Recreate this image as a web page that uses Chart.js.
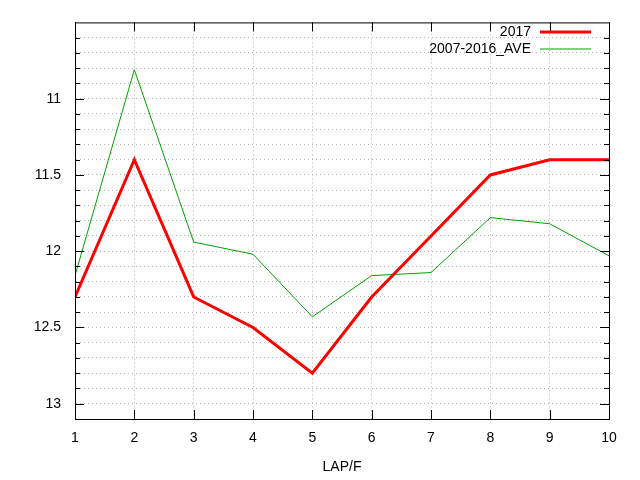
<!DOCTYPE html>
<html><head><script src="https://cdn.jsdelivr.net/npm/chart.js@4"></script>
<style>body{margin:0;background:#fff}#w{width:640px;height:480px}</style></head>
<body><div id="w"><canvas id="c" width="640" height="480"></canvas></div>
<script>
const laps=[1,2,3,4,5,6,7,8,9,10];
const s2017=[12.3,11.4,12.3,12.5,12.8,12.3,11.9,11.5,11.4,11.4];
const sAve=[12.16,10.81,11.94,12.02,12.43,12.16,12.14,11.78,11.82,12.03];
const yMajor=[11,11.5,12,12.5,13];
const F='"Liberation Sans", Arial, sans-serif';
const frame={id:'frame',afterDraw(ch){const c=ch.ctx,a=ch.chartArea;c.save();c.strokeStyle='#000';c.lineWidth=1;
c.strokeRect(a.left+0.5,a.top+0.5,a.right-a.left,a.bottom-a.top);
const y=ch.scales.y,x=ch.scales.x;
for(let v=10.6;v<13.1;v+=0.1){const p=Math.round(y.getPixelForValue(v))+0.5;const maj=yMajor.some(m=>Math.abs(m-v)<1e-6);const L=maj?9:5;
c.beginPath();c.moveTo(a.left,p);c.lineTo(a.left+L,p);c.moveTo(a.right,p);c.lineTo(a.right-L,p);c.stroke();}
laps.forEach(l=>{const p=Math.round(x.getPixelForValue(l))+0.5;c.beginPath();c.moveTo(p,a.bottom);c.lineTo(p,a.bottom-9);c.moveTo(p,a.top);c.lineTo(p,a.top+9);c.stroke();});
c.font='14px '+F;c.textAlign='right';c.textBaseline='middle';c.fillStyle='#000';
ch.data.datasets.forEach((d,i)=>{const yy=32+i*17;c.fillText(d.label,531,yy);c.strokeStyle=d.borderColor;c.lineWidth=d.borderWidth;c.beginPath();c.moveTo(540,yy);c.lineTo(591,yy);c.stroke();});
c.restore();}};
new Chart(document.getElementById('c'),{type:'line',
data:{labels:laps,datasets:[
{label:'2017',data:s2017,borderColor:'#ff0000',borderWidth:3,pointRadius:0,tension:0},
{label:'2007-2016_AVE',data:sAve,borderColor:'#00a000',borderWidth:1,pointRadius:0,tension:0}]},
options:{responsive:false,animation:false,layout:{padding:{top:17,right:31}},
plugins:{legend:{display:false},tooltip:{enabled:false}},
scales:{
x:{type:'linear',min:1,max:10,afterFit(s){s.height=61;},
ticks:{stepSize:1,color:'#000',font:{family:F,size:14},padding:11},
grid:{color:'#b0b0b0',drawTicks:false},border:{display:true,dash:[1,3],color:'#000'},
title:{display:true,text:'LAP/F',color:'#000',font:{family:F,size:14},padding:{top:8}}},
y:{reverse:true,min:10.5,max:13.1,afterFit(s){s.width=75;},
afterBuildTicks(s){const t=[];for(let i=106;i<=130;i++)t.push({value:i/10});s.ticks=t;},
ticks:{color:'#000',font:{family:F,size:14},padding:14,autoSkip:false,
callback:v=>yMajor.some(m=>Math.abs(m-v)<1e-6)?String(+v.toFixed(1)):''},
grid:{color:'#b0b0b0',drawTicks:false},border:{display:true,dash:[1,3],color:'#000'}}}},
plugins:[frame]});
</script></body></html>
